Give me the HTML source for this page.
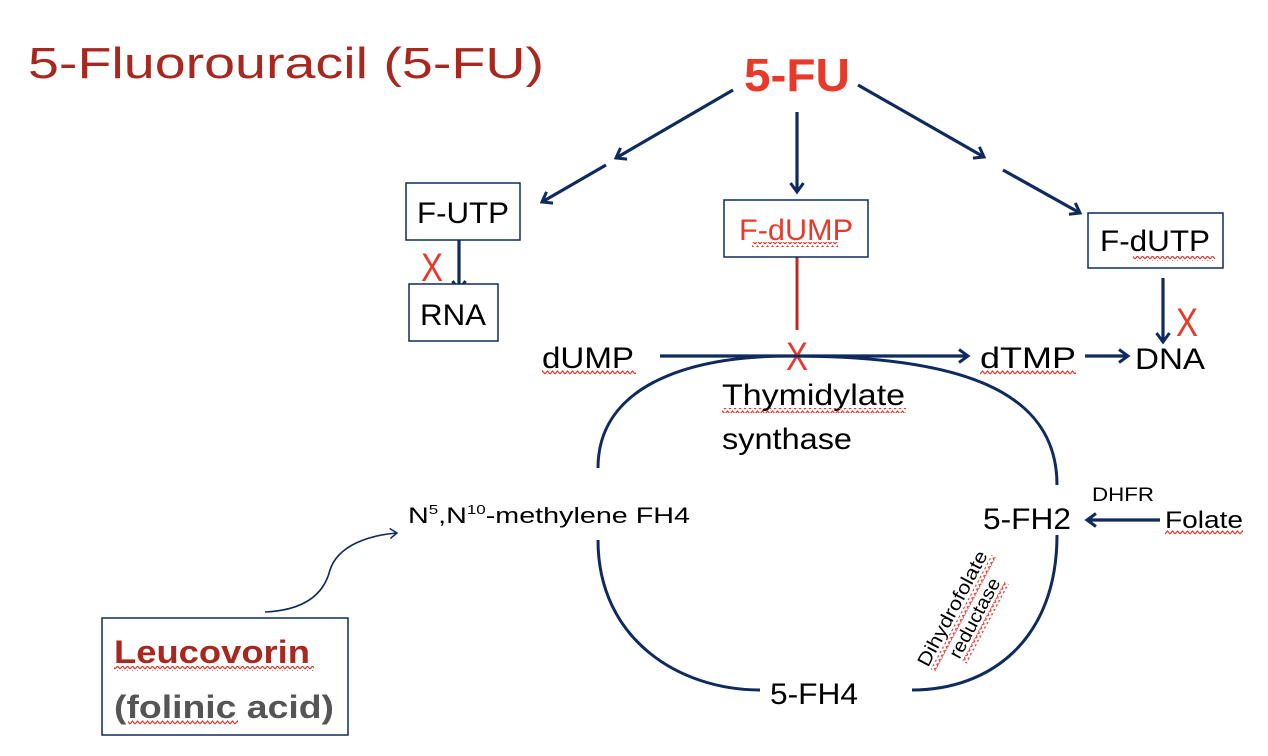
<!DOCTYPE html>
<html><head><meta charset="utf-8"><style>
html,body{margin:0;padding:0;background:#fff;}
svg{display:block;}
text{font-family:"Liberation Sans",sans-serif;}
</style></head><body>
<svg width="1268" height="756" viewBox="0 0 1268 756" xmlns="http://www.w3.org/2000/svg">
<defs>
<marker id="ah" markerWidth="14" markerHeight="16" refX="11" refY="8" orient="auto" markerUnits="userSpaceOnUse" viewBox="0 0 14 16">
<path d="M2,1.5 L11,8 L2,14.5" fill="none" stroke="#0e2a5e" stroke-width="3"/>
</marker>
<marker id="ahs" markerWidth="12" markerHeight="12" refX="9" refY="6" orient="auto" markerUnits="userSpaceOnUse" viewBox="0 0 12 12">
<path d="M2,1 L9,6 L2,11" fill="none" stroke="#0e2a5e" stroke-width="1.5"/>
</marker>
<pattern id="sq" width="5" height="5" patternUnits="userSpaceOnUse">
<path d="M0,4 L2.5,1 L5,4" fill="none" stroke="#e0352a" stroke-width="1.2"/>
</pattern>
</defs>
<text x="28" y="78" font-size="44" fill="#a8281f" textLength="516" lengthAdjust="spacingAndGlyphs">5-Fluorouracil (5-FU)</text>
<text x="797" y="91" font-size="46" font-weight="bold" fill="#e8392a" text-anchor="middle" textLength="106" lengthAdjust="spacingAndGlyphs">5-FU</text>
<g stroke="#0e2a5e" stroke-width="3.2" fill="none" marker-end="url(#ah)">
<line x1="733" y1="90" x2="616" y2="158"/>
<line x1="606" y1="165" x2="542" y2="202"/>
<line x1="797" y1="112" x2="797" y2="192"/>
<line x1="858" y1="85" x2="984" y2="157"/>
<line x1="1003" y1="170" x2="1080" y2="213"/>
<line x1="459" y1="240" x2="459" y2="290"/>
<line x1="1163" y1="278" x2="1163" y2="342"/>
<line x1="660" y1="356" x2="968" y2="356"/>
<line x1="1085" y1="356" x2="1128" y2="356"/>
<line x1="1160" y1="520" x2="1087" y2="520"/>
</g>
<line x1="797" y1="257" x2="797" y2="330" stroke="#c0281e" stroke-width="3"/>
<g fill="#fff" stroke="#0e2a5e" stroke-width="1.5">
<rect x="406" y="183" width="114" height="57"/>
<rect x="724" y="200" width="144" height="57"/>
<rect x="1088" y="213" width="135" height="55"/>
<rect x="409" y="284" width="89" height="57"/>
<rect x="102" y="618" width="246" height="117"/>
</g>
<g font-size="30" fill="#000">
<text x="463" y="223" text-anchor="middle" textLength="92" lengthAdjust="spacingAndGlyphs">F-UTP</text>
<text x="796" y="240" text-anchor="middle" fill="#e8392a" textLength="114" lengthAdjust="spacingAndGlyphs">F-dUMP</text>
<text x="1155" y="251" text-anchor="middle" textLength="110" lengthAdjust="spacingAndGlyphs">F-dUTP</text>
<text x="453" y="325" text-anchor="middle" textLength="66" lengthAdjust="spacingAndGlyphs">RNA</text>
<text x="542" y="368" textLength="92" lengthAdjust="spacingAndGlyphs">dUMP</text>
<text x="980" y="368" textLength="96" lengthAdjust="spacingAndGlyphs">dTMP</text>
<text x="1135" y="369" textLength="70" lengthAdjust="spacingAndGlyphs">DNA</text>
<text x="722" y="405" textLength="183" lengthAdjust="spacingAndGlyphs">Thymidylate</text>
<text x="722" y="449" textLength="130" lengthAdjust="spacingAndGlyphs">synthase</text>
<text x="983" y="529" textLength="88" lengthAdjust="spacingAndGlyphs">5-FH2</text>
<text x="770" y="704" textLength="88" lengthAdjust="spacingAndGlyphs">5-FH4</text>
</g>
<text x="1165" y="528" font-size="24" textLength="78" lengthAdjust="spacingAndGlyphs">Folate</text>
<text x="1092" y="501" font-size="19" textLength="62" lengthAdjust="spacingAndGlyphs">DHFR</text>
<text x="408" y="523" font-size="22" textLength="282" lengthAdjust="spacingAndGlyphs">N<tspan font-size="13" dy="-9">5</tspan><tspan dy="9">,N</tspan><tspan font-size="13" dy="-9">10</tspan><tspan dy="9">-methylene FH4</tspan></text>
<g font-size="40" fill="#e8392a">
<text x="432" y="281" text-anchor="middle" textLength="22" lengthAdjust="spacingAndGlyphs">X</text>
<text x="797" y="370" text-anchor="middle" textLength="22" lengthAdjust="spacingAndGlyphs">X</text>
<text x="1187" y="336" text-anchor="middle" textLength="22" lengthAdjust="spacingAndGlyphs">X</text>
</g>
<path d="M598,468 C598,390 680,356 790,356 C960,356 1057,390 1057,485" fill="none" stroke="#0e2a5e" stroke-width="3"/>
<path d="M1057,535 C1057,640 990,690 912,690" fill="none" stroke="#0e2a5e" stroke-width="3"/>
<path d="M598,540 C598,640 680,690 760,690" fill="none" stroke="#0e2a5e" stroke-width="3"/>
<g transform="translate(928,668) rotate(-62)" font-size="19" fill="#000">
<text x="0" y="0" textLength="128" lengthAdjust="spacingAndGlyphs">Dihydrofolate</text>
<text x="22" y="24" textLength="88" lengthAdjust="spacingAndGlyphs">reductase</text>
<rect x="0" y="3" width="130" height="5" fill="url(#sq)"/>
<rect x="22" y="27" width="90" height="5" fill="url(#sq)"/>
</g>
<path d="M265,612 C310,610 325,590 330,570 C338,545 370,535 397,533" fill="none" stroke="#0e2a5e" stroke-width="1.6" marker-end="url(#ahs)"/>
<text x="114" y="663" font-size="32" font-weight="bold" fill="#a8281f" textLength="196" lengthAdjust="spacingAndGlyphs">Leucovorin</text>
<text x="114" y="718" font-size="32" font-weight="bold" fill="#555" textLength="220" lengthAdjust="spacingAndGlyphs">(folinic acid)</text>
<g fill="url(#sq)">
<rect x="752" y="242" width="86" height="5"/>
<rect x="1133" y="256" width="82" height="5"/>
<rect x="542" y="370" width="94" height="5"/>
<rect x="980" y="370" width="96" height="5"/>
<rect x="722" y="408" width="184" height="5"/>
<rect x="1165" y="530" width="78" height="5"/>
<rect x="114" y="666" width="200" height="5"/>
<rect x="128" y="720" width="110" height="5"/>
</g>
</svg>
</body></html>
